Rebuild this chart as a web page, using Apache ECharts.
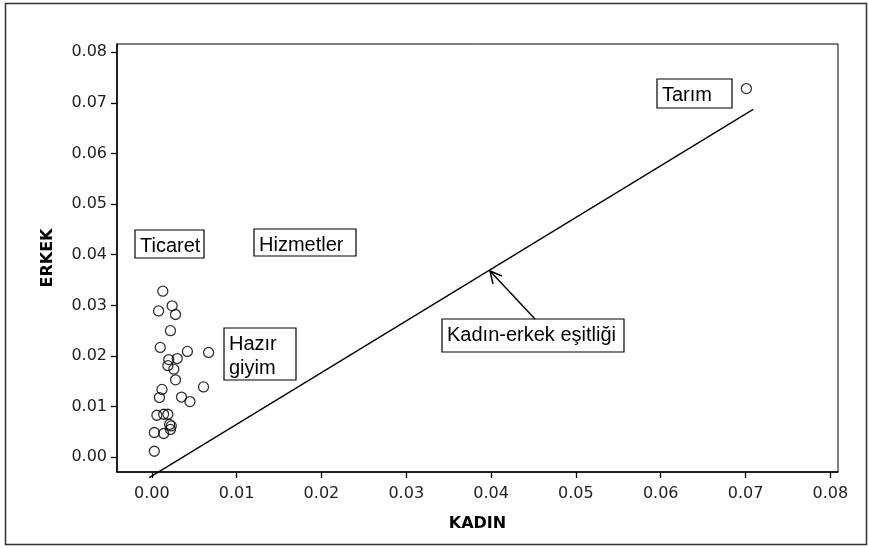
<!DOCTYPE html>
<html>
<head>
<meta charset="utf-8">
<script src="https://cdn.jsdelivr.net/npm/echarts@6/dist/echarts.min.js"></script>
<style>
  html, body { margin: 0; padding: 0; background: #fff; }
  #chart { width: 869px; height: 548px; }
</style>
</head>
<body>
<div id="chart"></div>
<script>
// sector shares, women (x) vs men (y)
var kadin = [0.0013, 0.0008, 0.0024, 0.0028, 0.0022, 0.0010, 0.0042, 0.0067, 0.0020, 0.0030,
             0.0019, 0.0026, 0.0028, 0.0012, 0.0009, 0.0061, 0.0035, 0.0045, 0.0006, 0.0014,
             0.0019, 0.0021, 0.0023, 0.0022, 0.0003, 0.0014, 0.0003, 0.0701];
var erkek = [0.0328, 0.0289, 0.0299, 0.0282, 0.0250, 0.0217, 0.0209, 0.0207, 0.0193, 0.0195,
             0.0181, 0.0174, 0.0153, 0.0134, 0.0118, 0.0139, 0.0119, 0.0110, 0.0083, 0.0085,
             0.0085, 0.0065, 0.0062, 0.0055, 0.0049, 0.0047, 0.0012, 0.0728];

// equality line end points
var lineKadin = [-0.0003, 0.0709];
var lineErkek = [-0.0040, 0.0687];

var xTicks = [0, 0.01, 0.02, 0.03, 0.04, 0.05, 0.06, 0.07, 0.08];
var yTicks = [0, 0.01, 0.02, 0.03, 0.04, 0.05, 0.06, 0.07, 0.08];

var pointData = kadin.map(function (x, i) { return [x, erkek[i]]; });
var lineData = lineKadin.map(function (x, i) { return [x, lineErkek[i]]; });

var chart = echarts.init(document.getElementById('chart'));

var tickFont = { fontFamily: 'DejaVu Sans', fontSize: 16, color: '#222' };
var titleFont = { fontFamily: 'DejaVu Sans', fontWeight: 'bold', fontSize: 16, color: '#000' };

function box(x, y, w, h, text) {
  return [
    { type: 'rect', shape: { x: x, y: y, width: w, height: h },
      style: { fill: '#fff', stroke: '#000', lineWidth: 1.2 }, z: 10 },
    { type: 'text', x: x + 5, y: y + 4,
      style: { text: text, fill: '#000', font: '20px "Liberation Sans"', lineHeight: 24 }, z: 11 }
  ];
}

var graphics = [
  { type: 'rect', shape: { x: 5.5, y: 3.5, width: 861, height: 541 },
    style: { fill: 'none', stroke: '#333', lineWidth: 1.5 }, silent: true }
]
  .concat(box(657, 79, 75, 29, 'Tarım'))
  .concat(box(135, 230, 69, 28, 'Ticaret'))
  .concat(box(254, 229, 102, 27, 'Hizmetler'))
  .concat(box(224, 328, 72, 52, 'Hazır\ngiyim'))
  .concat(box(442, 319, 182, 33, 'Kadın-erkek eşitliği'))
  .concat([
    { type: 'line', shape: { x1: 535, y1: 319, x2: 490, y2: 271 },
      style: { stroke: '#000', lineWidth: 1.5 }, z: 12 },
    { type: 'polyline', shape: { points: [[493, 284], [490, 271], [502, 276]] },
      style: { stroke: '#000', lineWidth: 1.5, fill: 'none' }, z: 12 }
  ]);

var option = {
  animation: false,
  grid: { left: 117, right: 31, top: 44, bottom: 76, show: true, borderColor: '#000', borderWidth: 1 },
  xAxis: {
    type: 'value',
    min: -0.0041,
    max: 0.0809,
    name: 'KADIN',
    nameLocation: 'middle',
    nameGap: 44,
    nameTextStyle: titleFont,
    axisLine: { onZero: false, lineStyle: { color: '#000', width: 1.5 } },
    axisTick: { show: true, length: 6, customValues: xTicks, lineStyle: { color: '#000', width: 1.3 } },
    axisLabel: Object.assign({ margin: 14, customValues: xTicks,
      formatter: function (v) { return v.toFixed(2); } }, tickFont),
    splitLine: { show: false }
  },
  yAxis: {
    type: 'value',
    min: -0.0029,
    max: 0.0816,
    name: 'ERKEK',
    nameLocation: 'middle',
    nameGap: 61,
    nameTextStyle: titleFont,
    axisLine: { show: true, onZero: false, lineStyle: { color: '#000', width: 1.5 } },
    axisTick: { show: true, length: 6, customValues: yTicks, lineStyle: { color: '#000', width: 1.3 } },
    axisLabel: Object.assign({ margin: 10, customValues: yTicks,
      formatter: function (v) { return v.toFixed(2); } }, tickFont),
    splitLine: { show: false }
  },
  series: [
    {
      type: 'line',
      data: lineData,
      clip: false,
      showSymbol: false,
      symbol: 'none',
      lineStyle: { color: '#000', width: 1.3 },
      silent: true
    },
    {
      type: 'scatter',
      data: pointData,
      symbol: 'circle',
      symbolSize: 10,
      itemStyle: { color: 'rgba(255,255,255,0)', borderColor: '#000', borderWidth: 1.3 }
    }
  ],
  graphic: graphics
};

chart.setOption(option);
</script>
</body>
</html>
